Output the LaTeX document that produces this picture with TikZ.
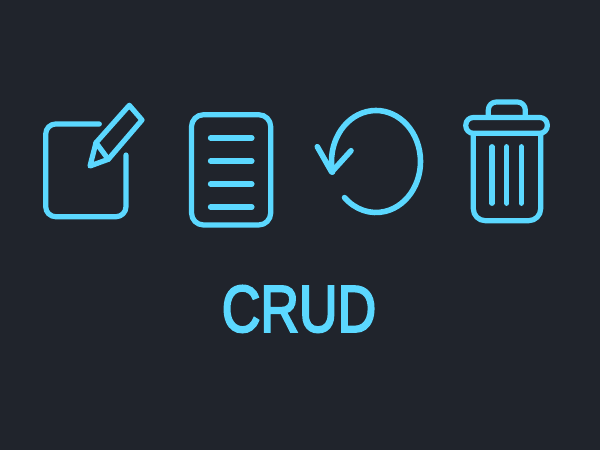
\documentclass[tikz,border=0pt]{standalone}
\usepackage{fontspec}
\setmainfont[FakeBold=3.5]{Liberation Sans}
\definecolor{bgc}{HTML}{20242C}
\definecolor{ico}{HTML}{5BD8FF}
\tikzset{icon/.style={draw=ico,line width=5.2pt,line cap=round,line join=round}}
\begin{document}
\begin{tikzpicture}[x=1pt,y=1pt,yscale=-1]
\useasboundingbox (0,0) rectangle (600,450);
\fill[bgc] (0,0) rectangle (600,450);
% edit
\draw[icon,rounded corners=10pt] (99.3,124) -- (45.7,124) -- (45.7,216.7) -- (126,216.7) -- (126,155);
\draw[icon] (90,166) -- (96,142.7) -- (129.3,105.3) -- (142,120) -- (108.3,159.3) -- cycle;
\draw[icon] (96,142.7) -- (108.3,159.3);
% read
\draw[icon,rounded corners=12pt] (191.5,114.7) rectangle (270.7,225);
\foreach \yy in {138,161,184,207}{\draw[icon,line width=5.8pt] (210.7,\yy) -- (251.7,\yy);}
% update
\draw[icon,line width=5.6pt] (376,161.5) ++(168:44.5pt and 51pt) arc[start angle=168,end angle=495,x radius=44.5pt,y radius=51pt];
\draw[icon,line width=5.6pt] (317.3,146.7) -- (331.7,172) -- (351,150.7);
% delete
\draw[icon,rounded corners=7.5pt] (465.8,117.5) rectangle (547.3,133.3);
\draw[icon,rounded corners=8pt] (488.3,115) -- (488.3,102) -- (525.3,102) -- (525.3,115);
\draw[icon,rounded corners=12pt] (473.3,134) -- (473.3,220.7) -- (540.7,220.7) -- (540.7,134);
\foreach \xx in {492,506.7,521.3}{\draw[icon] (\xx,146.7) -- (\xx,203.3);}
% label
\node[text=ico,font=\fontsize{66}{66}\selectfont,inner sep=0pt,anchor=base,xscale=0.81] (crud) at (299,331.7) {CRUD};
\end{tikzpicture}
\end{document}
